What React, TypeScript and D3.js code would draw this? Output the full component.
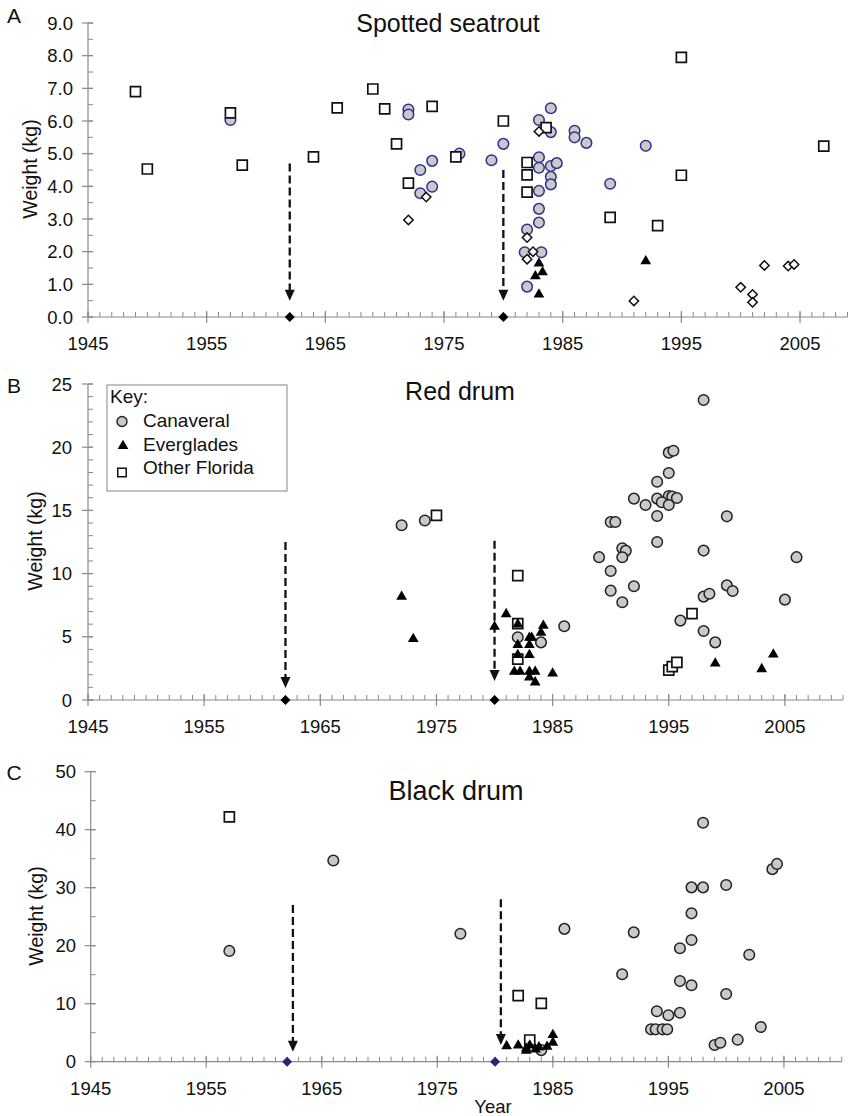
import React from 'react';
import * as d3 from 'd3';

type Pt = [number, number];

// ---- Panel A: spotted seatrout (year, kg)
const seatroutCanaveral: Pt[] = [
  [1957, 6.03], [1972, 6.35], [1972, 6.2], [1973, 4.5], [1973, 3.79], [1974, 4.78], [1974, 3.99],
  [1976.3, 5.0], [1979, 4.8], [1980, 5.3], [1982, 2.68], [1981.8, 1.98], [1982, 0.93],
  [1984, 6.39], [1983, 6.03], [1984, 5.66], [1983, 4.89], [1983, 4.57], [1984, 4.62], [1984.5, 4.71],
  [1984, 4.29], [1984, 4.06], [1983, 3.86], [1983, 3.31], [1983, 2.89], [1983.2, 1.98],
  [1986, 5.7], [1986, 5.5], [1987, 5.33], [1989, 4.08], [1992, 5.24],
];
const seatroutEverglades: Pt[] = [
  [1983, 1.64], [1983.3, 1.37], [1982.7, 1.25], [1983, 0.69], [1992, 1.71],
];
const seatroutOther: Pt[] = [
  [1949, 6.9], [1950, 4.53], [1957, 6.25], [1958, 4.65], [1964, 4.9], [1966, 6.4], [1969, 6.98],
  [1970, 6.37], [1971, 5.3], [1972, 4.1], [1974, 6.45], [1976, 4.9], [1980, 6.0], [1982, 4.73],
  [1982, 4.35], [1982, 3.82], [1983.6, 5.8], [1989, 3.05], [1993, 2.8], [1995, 7.95], [1995, 4.34],
  [2007, 5.23],
];
const seatroutDiamonds: Pt[] = [
  [1972, 2.97], [1973.5, 3.67], [1983, 5.68], [1982, 2.43], [1982.5, 2.0], [1982, 1.77],
  [1991, 0.49], [2000, 0.91], [2001, 0.69], [2001, 0.45], [2002, 1.58], [2004, 1.56], [2004.5, 1.61],
];
const seatroutArrowTops = [4.7, 4.5];
const seatroutArrowTips = [0.5, 0.5];

// ---- Panel B: red drum
const redCanaveral: Pt[] = [
  [1972, 13.82], [1974, 14.2], [1986, 5.83], [1982, 4.96], [1984, 4.56], [1989, 11.3], [1990, 14.08],
  [1990.4, 14.08], [1990, 10.2], [1990, 8.65], [1991, 12.0], [1991.3, 11.8], [1991, 11.29],
  [1991, 7.73], [1992, 15.93], [1992, 9.0], [1993, 15.43], [1994, 17.27], [1994, 15.93], [1994, 14.56],
  [1994, 12.5], [1995, 19.57], [1995.4, 19.72], [1995, 17.96], [1995, 16.14], [1994.4, 15.64],
  [1995.3, 16.09], [1995.7, 15.98], [1995, 15.43], [1996, 6.28], [1998, 23.73], [1998, 11.82],
  [1998, 8.18], [1998.5, 8.41], [1998, 5.46], [1999, 4.56], [2000, 14.53], [2000, 9.07],
  [2000.5, 8.62], [2005, 7.94], [2006, 11.3],
];
const redEverglades: Pt[] = [
  [1972, 8.18], [1973, 4.83], [1980, 5.8], [1981, 6.8], [1982, 5.99], [1982, 4.35], [1982, 3.56],
  [1983, 4.93], [1983.2, 4.93], [1983, 4.35], [1983, 3.56], [1984.2, 5.88], [1984, 5.33],
  [1981.7, 2.24], [1982.2, 2.24], [1983, 2.24], [1983.5, 2.24], [1983, 1.79], [1983.5, 1.4],
  [1985, 2.11], [1999, 2.9], [2003, 2.45], [2004, 3.61],
];
const redOther: Pt[] = [
  [1975, 14.6], [1982, 9.84], [1982, 6.04], [1982, 3.24], [1995, 2.37], [1995.3, 2.64],
  [1995.7, 2.98], [1997, 6.83],
];
const redArrowTops = [12.5, 12.6];
const redArrowTips = [0.95, 1.5];

// ---- Panel C: black drum
const blackCanaveral: Pt[] = [
  [1957, 19.1], [1966, 34.7], [1977, 22.07], [1986, 22.9], [1992, 22.3], [1991, 15.07], [1994, 8.69],
  [1995, 8.0], [1996, 8.45], [1993.5, 5.58], [1993.9, 5.58], [1994.5, 5.58], [1994.9, 5.58],
  [1996, 13.9], [1997, 13.17], [1996, 19.55], [1997, 20.98], [1997, 25.58], [1997, 30.06],
  [1998, 30.06], [1998, 41.2], [2000, 30.46], [2000, 11.67], [2002, 18.45], [2003, 5.98],
  [1999, 2.88], [1999.5, 3.28], [2001, 3.8], [2004, 33.2], [2004.4, 34.1], [1984, 2.0],
];
const blackEverglades: Pt[] = [
  [1981, 2.7], [1982, 2.8], [1982.7, 2.3], [1982.7, 1.9], [1983, 2.8], [1983.5, 2.1], [1983.8, 2.5],
  [1984.5, 2.6], [1985, 4.6], [1985, 3.3],
];
const blackOther: Pt[] = [[1957, 42.2], [1982, 11.4], [1984, 10.07], [1983, 3.74]];
const blackArrowTops = [27, 28];
const blackArrowTips = [1.7, 2.9];
const blackArrowYears = [1962.5, 1980.5];

const eventYears = [1962, 1980];
const xTickYears = [1945, 1955, 1965, 1975, 1985, 1995, 2005];
const legendLabels = ['Canaveral', 'Everglades', 'Other Florida'];

const FONT = 'Liberation Sans, Arial, Helvetica, sans-serif';
const AXIS = '#8a8a8a';

const tri = d3.symbol(d3.symbolTriangle, 50)()!;
const sq = d3.symbol(d3.symbolSquare, 100)()!;
const dia = d3.symbol(d3.symbolSquare, 44)()!;
const axisDia = d3.symbol(d3.symbolSquare, 50)()!;

interface PanelProps {
  x0: number; x1: number; xEnd: number;
  yBottom: number; yTop: number; yMax: number; yMajor: number; yMinor: number; decimals: number;
  labelRight: number; title: string; titleX: number; titleY: number; titleSize: number;
  letter: string; letterY: number; ylabelX: number; ylabelY: number;
  circleStroke: string; eventFill: string;
  canaveral: Pt[]; everglades: Pt[]; other: Pt[]; diamonds?: Pt[];
  arrowYears: number[]; arrowTops: number[]; arrowTips: number[];
}

function Panel(p: PanelProps) {
  const x = d3.scaleLinear().domain([1945, p.xEnd]).range([p.x0, p.x1]);
  const y = d3.scaleLinear().domain([0, p.yMax]).range([p.yBottom, p.yTop]);
  const minorX = d3.range(1945, p.xEnd + 0.01, 1);
  const majorY = d3.range(0, p.yMax + 1e-6, p.yMajor);
  const minorY = d3.range(0, p.yMax + 1e-6, p.yMinor);
  const y0 = y(0);
  return (
    <g fontFamily={FONT} fill="#111">
      <text x={14} y={p.letterY} fontSize={21} textAnchor="middle">{p.letter}</text>
      <text x={p.titleX} y={p.titleY} fontSize={p.titleSize} textAnchor="middle">{p.title}</text>
      <text transform={`translate(${p.ylabelX},${p.ylabelY}) rotate(-90)`} fontSize={19.5} textAnchor="middle" dy="0.35em">Weight (kg)</text>
      {/* y axis */}
      <line x1={p.x0} x2={p.x0} y1={y(0)} y2={y(p.yMax)} stroke={AXIS} strokeWidth={1.2} />
      {minorY.map((v, i) => (
        <line key={'ym' + i} x1={p.x0} x2={p.x0 + 5} y1={y(v)} y2={y(v)} stroke={AXIS} />
      ))}
      {majorY.map((v, i) => (
        <g key={'yM' + i}>
          <line x1={p.x0 - 6} x2={p.x0 + 5} y1={y(v)} y2={y(v)} stroke={AXIS} strokeWidth={1.2} />
          <text x={p.labelRight} y={y(v)} dy="0.36em" fontSize={18.5} textAnchor="end">{v.toFixed(p.decimals)}</text>
        </g>
      ))}
      {/* x axis */}
      <line x1={p.x0} x2={p.x1} y1={y0} y2={y0} stroke={AXIS} strokeWidth={1.2} />
      {minorX.map((v, i) => (
        <line key={'xm' + i} x1={x(v)} x2={x(v)} y1={y0} y2={y0 - 5} stroke={AXIS} />
      ))}
      {xTickYears.map((v, i) => (
        <g key={'xM' + i}>
          <line x1={x(v)} x2={x(v)} y1={y0 - 6} y2={y0 + 6} stroke={AXIS} strokeWidth={1.2} />
          <text x={x(v)} y={y0 + 33} fontSize={18.5} textAnchor="middle">{v}</text>
        </g>
      ))}
      {/* event arrows */}
      {p.arrowYears.map((yr, i) => {
        const ax = x(yr);
        const tip = y(p.arrowTips[i]);
        return (
          <g key={'ar' + i}>
            <line x1={ax} x2={ax} y1={y(p.arrowTops[i])} y2={tip - 8} stroke="#111" strokeWidth={2.3} strokeDasharray="8,4" />
            <path d={`M${ax - 5},${tip - 11}L${ax + 5},${tip - 11}L${ax},${tip}Z`} fill="#111" />
          </g>
        );
      })}
      {eventYears.map((yr, i) => (
        <path key={'ev' + i} d={axisDia} transform={`translate(${x(yr)},${y0}) rotate(45)`} fill={p.eventFill} />
      ))}
      {/* markers */}
      {p.canaveral.map((d, i) => (
        <circle key={'c' + i} cx={x(d[0])} cy={y(d[1])} r={5.3} fill="#c9c9c9" stroke={p.circleStroke} strokeWidth={1.5} />
      ))}
      {p.other.map((d, i) => (
        <path key={'s' + i} d={sq} transform={`translate(${x(d[0])},${y(d[1])})`} fill="#fff" stroke="#111" strokeWidth={1.7} />
      ))}
      {(p.diamonds || []).map((d, i) => (
        <path key={'d' + i} d={dia} transform={`translate(${x(d[0])},${y(d[1])}) rotate(45)`} fill="#fff" stroke="#111" strokeWidth={1.5} />
      ))}
      {p.everglades.map((d, i) => (
        <path key={'t' + i} d={tri} transform={`translate(${x(d[0])},${y(d[1])})`} fill="#000" />
      ))}
    </g>
  );
}

export default function App() {
  return (
    <svg width={861} height={1116} style={{ position: 'absolute', left: 0, top: 0, background: '#fff' }}>
      <rect width={861} height={1116} fill="#fff" />
      <Panel
        x0={88} x1={847.5} xEnd={2009} yBottom={317} yTop={23} yMax={9} yMajor={1} yMinor={0.5} decimals={1}
        labelRight={73} title="Spotted seatrout" titleX={448} titleY={31.5} titleSize={25}
        letter="A" letterY={23} ylabelX={30} ylabelY={169} circleStroke="#2e3192" eventFill="#000"
        canaveral={seatroutCanaveral} everglades={seatroutEverglades} other={seatroutOther} diamonds={seatroutDiamonds}
        arrowYears={eventYears} arrowTops={seatroutArrowTops} arrowTips={seatroutArrowTips}
      />
      <Panel
        x0={88} x1={843} xEnd={2010} yBottom={700} yTop={384} yMax={25} yMajor={5} yMinor={1} decimals={0}
        labelRight={72} title="Red drum" titleX={460} titleY={400} titleSize={25}
        letter="B" letterY={393} ylabelX={35} ylabelY={541} circleStroke="#222" eventFill="#000"
        canaveral={redCanaveral} everglades={redEverglades} other={redOther}
        arrowYears={eventYears} arrowTops={redArrowTops} arrowTips={redArrowTips}
      />
      <Panel
        x0={90.7} x1={841.7} xEnd={2010} yBottom={1061.7} yTop={771.7} yMax={50} yMajor={10} yMinor={5} decimals={0}
        labelRight={76} title="Black drum" titleX={456} titleY={800} titleSize={27}
        letter="C" letterY={780} ylabelX={36} ylabelY={916} circleStroke="#222" eventFill="#262673"
        canaveral={blackCanaveral} everglades={blackEverglades} other={blackOther}
        arrowYears={blackArrowYears} arrowTops={blackArrowTops} arrowTips={blackArrowTips}
      />
      {/* legend */}
      <g fontFamily={FONT} fill="#111" fontSize={19}>
        <rect x={107} y={385} width={180} height={106} fill="#fff" stroke="#999" strokeWidth={1.2} />
        <text x={110} y={403}>Key:</text>
        {legendLabels.map((lab, i) => (
          <text key={lab} x={143} y={427 + i * 23.5}>{lab}</text>
        ))}
        <circle cx={122} cy={421.5} r={5} fill="#c9c9c9" stroke="#222" strokeWidth={1.4} />
        <path d={tri} transform="translate(123,446)" fill="#000" />
        <path d={d3.symbol(d3.symbolSquare, 72)()!} transform="translate(122,472.5)" fill="#fff" stroke="#111" strokeWidth={1.5} />
      </g>
      <text x={493} y={1113} fontFamily={FONT} fontSize={18.5} textAnchor="middle" fill="#111">Year</text>
    </svg>
  );
}
